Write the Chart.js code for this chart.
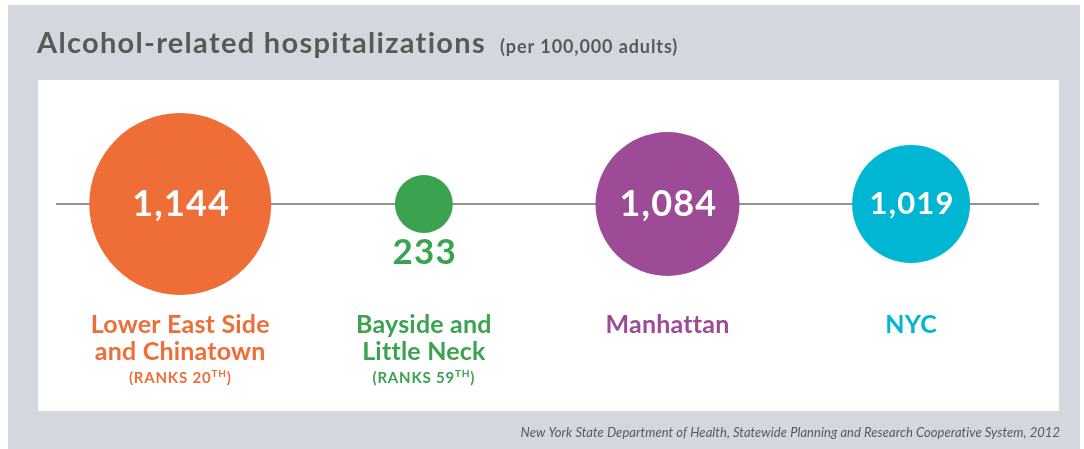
<!DOCTYPE html>
<html>
<head>
<meta charset="utf-8">
<script src="https://cdn.jsdelivr.net/npm/chart.js@4/dist/chart.umd.min.js"></script>
<style>
  html, body { margin: 0; padding: 0; background: #fff; }
  #wrap { position: relative; width: 1084px; height: 449px; }
</style>
</head>
<body>
<div id="wrap"><canvas id="hospChart"></canvas></div>
<script>
// data
var areaNames = [["Lower East Side", "and Chinatown"], ["Bayside and", "Little Neck"], ["Manhattan"], ["NYC"]];
var hospRates = [1144, 233, 1084, 1019];
var areaRanks = ["20", "59", null, null];

// styling
var colors = ["#ef6d37", "#3ba34f", "#9d4a97", "#00b6d3"];
var radii = [91, 29, 72, 59];
var numSizes = [36, 35, 36, 31];
var fontFam = "Lato, 'Open Sans', sans-serif";

var bgPlugin = {
    id: "panel",
    beforeDraw: function (chart) {
        var ctx = chart.ctx;
        ctx.save();
        ctx.fillStyle = "#ffffff";
        ctx.fillRect(0, 0, chart.width, chart.height);
        ctx.fillStyle = "#d4d7de";
        ctx.fillRect(8, 5, 1072, 444);
        ctx.fillStyle = "#ffffff";
        ctx.fillRect(38, 80, 1021, 331);

        // title
        ctx.fillStyle = "#58595b";
        ctx.textBaseline = "alphabetic";
        ctx.textAlign = "left";
        ctx.font = "bold 29px " + fontFam;
        ctx.letterSpacing = "1.3px";
        ctx.fillText("Alcohol-related hospitalizations", 37, 53);
        ctx.font = "bold 18px " + fontFam;
        ctx.letterSpacing = "0.9px";
        ctx.fillText("(per 100,000 adults)", 500, 53);

        // source
        ctx.font = "italic 13px " + fontFam;
        ctx.letterSpacing = "0.05px";
        ctx.textAlign = "right";
        ctx.fillText("New York State Department of Health, Statewide Planning and Research Cooperative System, 2012", 1060, 437);
        ctx.letterSpacing = "0px";

        // baseline through the bubbles
        var y0 = chart.scales.y.getPixelForValue(0);
        ctx.strokeStyle = "#6d6e70";
        ctx.lineWidth = 1.5;
        ctx.beginPath();
        ctx.moveTo(chart.chartArea.left, y0);
        ctx.lineTo(chart.chartArea.right, y0);
        ctx.stroke();
        ctx.restore();
    },
    afterDatasetsDraw: function (chart) {
        var ctx = chart.ctx;
        var meta = chart.getDatasetMeta(0);
        ctx.save();
        ctx.textAlign = "center";
        meta.data.forEach(function (pt, i) {
            var txt = hospRates[i].toLocaleString("en-US");
            var r = radii[i];
            ctx.font = "bold " + numSizes[i] + "px " + fontFam;
            ctx.letterSpacing = "1.2px";
            if (r > 40) {
                ctx.fillStyle = "#ffffff";
                ctx.textBaseline = "middle";
                ctx.fillText(txt, pt.x + 1, pt.y);
            } else {
                ctx.fillStyle = colors[i];
                ctx.textBaseline = "alphabetic";
                ctx.fillText(txt, pt.x + 1, pt.y + r + 31);
            }

            // category labels
            ctx.fillStyle = colors[i];
            ctx.textBaseline = "alphabetic";
            ctx.font = "bold 25px " + fontFam;
            ctx.letterSpacing = "0.2px";
            areaNames[i].forEach(function (line, k) {
                ctx.fillText(line, pt.x, 333 + k * 27);
            });
            if (areaRanks[i]) {
                ctx.letterSpacing = "0.8px";
                var main = "(RANKS " + areaRanks[i];
                ctx.font = "bold 15px " + fontFam;
                var mw = ctx.measureText(main).width;
                var pw = ctx.measureText(")").width;
                ctx.font = "bold 10px " + fontFam;
                var sw = ctx.measureText("TH").width;
                var x = pt.x - (mw + sw + pw) / 2;
                ctx.textAlign = "left";
                ctx.font = "bold 15px " + fontFam;
                ctx.fillText(main, x, 383);
                ctx.fillText(")", x + mw + sw, 383);
                ctx.font = "bold 10px " + fontFam;
                ctx.fillText("TH", x + mw, 377);
                ctx.textAlign = "center";
            }
            ctx.letterSpacing = "0px";
        });
        ctx.restore();
    }
};

new Chart(document.getElementById("hospChart"), {
    type: "bubble",
    data: {
        datasets: [{
            data: hospRates.map(function (v, i) { return { x: i, y: 0, r: radii[i] }; }),
            backgroundColor: colors,
            borderWidth: 0,
            hoverRadius: 0,
            clip: false
        }]
    },
    options: {
        responsive: true,
        maintainAspectRatio: false,
        animation: false,
        layout: { autoPadding: false, padding: { left: 56, right: 45, top: 114, bottom: 155 } },
        scales: {
            x: { type: "linear", min: -0.51, max: 3.525, display: false },
            y: { min: -1, max: 1, display: false }
        },
        plugins: {
            legend: { display: false },
            tooltip: { enabled: false }
        }
    },
    plugins: [bgPlugin]
});
</script>
</body>
</html>
